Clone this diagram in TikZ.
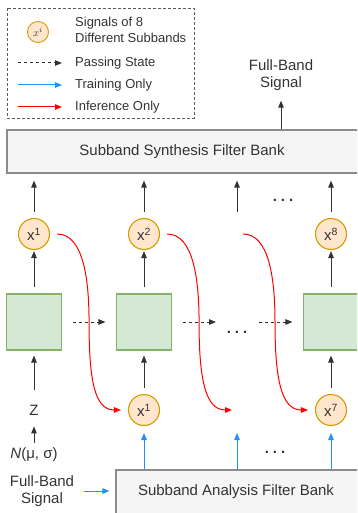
\documentclass[tikz,border=0pt]{standalone}
\usepackage{fontspec}
\setmainfont{Liberation Sans}
\usetikzlibrary{arrows.meta,positioning}
\definecolor{cTx}{HTML}{333333}
\definecolor{cSg}{HTML}{FFE6CC}
\definecolor{cSgD}{HTML}{D79B00}
\definecolor{cNt}{HTML}{D5E8D4}
\definecolor{cNtD}{HTML}{82B366}
\definecolor{cBk}{HTML}{F5F5F5}
\definecolor{cBkD}{HTML}{8C8C8C}
\definecolor{cTr}{HTML}{2090FF}
\definecolor{cIf}{HTML}{FF0000}
\tikzset{
  txt/.style={text=cTx, font=\fontsize{15}{17}\selectfont, align=center, inner sep=1pt},
  legtxt/.style={text=cTx, font=\fontsize{13}{16}\selectfont, align=left, anchor=west, inner sep=2pt},
  sig/.style={circle, draw=cSgD, fill=cSg, line width=1.1pt, minimum size=31pt, inner sep=0pt, txt},
  net/.style={rectangle, draw=cNtD, fill=cNt, line width=1.1pt, minimum width=55pt, minimum height=56pt},
  bank/.style={rectangle, draw=cBkD, fill=cBk, line width=1.2pt},
  fwd/.style={-{Triangle[length=7pt,width=5.5pt]}, line width=1pt, cTx},
  passarrow/.style={fwd, dash pattern=on 3pt off 3pt},
  trainarrow/.style={fwd, cTr},
  inferarrow/.style={fwd, cIf},
}
\newcommand{\infpath}[2]{\draw[inferarrow] #1 .. controls +(26,0) and +(0,-44) .. ++(32,88) .. controls +(0,56) and +(-27,0) .. #2;}
\newcommand{\hdots}{\textbf{.\hspace{4pt}.\hspace{4pt}.}}

\begin{document}
\begin{tikzpicture}[x=1pt,y=-1pt]
\clip (0,0) rectangle (357,513);
% legend
\draw[cTx!80, line width=0.9pt, dash pattern=on 3pt off 2pt] (7,8) rectangle (194,118);
\node[sig, minimum size=21pt, line width=0.9pt] (lgX) at (38,32) {\fontsize{11}{11}\selectfont$x^i$};
\node[legtxt] (lgS) at (73,30) {Signals of 8\\Different Subbands};
\node[legtxt] (lgP) at (73,63) {Passing State};
\node[legtxt] (lgT) at (73,85) {Training Only};
\node[legtxt] (lgI) at (73,107) {Inference Only};
\draw[passarrow] ([xshift=-55pt]lgP.west) -- ([xshift=-11pt]lgP.west);
\draw[trainarrow] ([xshift=-55pt]lgT.west) -- ([xshift=-11pt]lgT.west);
\draw[inferarrow] ([xshift=-55pt]lgI.west) -- ([xshift=-11pt]lgI.west);
% filter banks
\node[bank, minimum width=370pt, minimum height=43pt] (syn) at (192,151.5) {};
\node[txt] (synT) at (182,152) {Subband Synthesis Filter Bank};
\node[bank, minimum width=260pt, minimum height=60pt] (ana) at (246,500) {};
\node[txt] (anaT) at (236,492) {Subband Analysis Filter Bank};
\node[txt] (fbT) at (281,75) {Full-Band\\Signal};
\node[txt] (fbL) at (42,491) {Full-Band\\Signal};
% subbands and networks
\foreach \n/\xx/\s in {t1/34/1, t2/144/2, t8/331/8}
  \node[sig] (\n) at (\xx,234) {x\textsuperscript{\s}};
\foreach \n/\xx in {n1/34, n2/144, n3/331}
  \node[net] (\n) at (\xx,322) {};
\node[sig] (b1) at (144,410) {x\textsuperscript{1}};
\node[sig] (b7) at (331,410) {x\textsuperscript{7}};
\node[txt] (z) at (34,410) {Z};
\node[txt] (nrm) at (34,455) {\textit{N}(μ, σ)};
\coordinate (t3) at (237,212);
\coordinate (r3) at (243,234);
\coordinate (b3) at (237,433);
\coordinate (e2) at (232,410);
\coordinate (s2) at (216,322);
\coordinate (s3) at (259,322);
\node[txt, anchor=base] (d1) at (283,201) {\hdots};
\node[txt, anchor=base] (d2) at (237,333) {\hdots};
\node[txt, anchor=base] (d3) at (275,453) {\hdots};
% connectors
\draw[fwd, shorten >=9pt] (fbT |- syn.north) -- (fbT);
\foreach \a in {t1,t2,t8}
  \draw[fwd, shorten <=6pt, shorten >=7pt] (\a) -- (\a |- syn.south);
\draw[fwd, shorten >=7pt] (t3) -- (t3 |- syn.south);
\foreach \a/\b in {n1/t1, n2/t2, n3/t8}
  \draw[fwd, shorten <=6pt, shorten >=1pt] (\a) -- (\b);
\foreach \a/\b in {b1/n2, b7/n3}
  \draw[fwd, shorten <=6pt, shorten >=5pt] (\a) -- (\b);
\draw[fwd, shorten <=14pt, shorten >=5pt] (z) -- (n1);
\draw[fwd, shorten <=4pt, shorten >=10pt] (nrm) -- (z);
\draw[passarrow, shorten <=11pt, shorten >=10.5pt] (n1) -- (n2);
\draw[passarrow, shorten <=10.5pt] (n2) -- (s2);
\draw[passarrow, shorten >=10.5pt] (s3) -- (n3);
\foreach \a in {b1,b7}
  \draw[trainarrow, shorten >=7pt] (\a |- ana.north) -- (\a);
\draw[trainarrow] (b3 |- ana.north) -- (b3);
\draw[trainarrow, shorten <=9pt, shorten >=6pt] (fbL) -- (fbL -| ana.west);
\infpath{([xshift=7pt]t1.east)}{([xshift=-7pt]b1.west)}
\infpath{([xshift=7pt]t2.east)}{(e2)}
\infpath{(r3)}{([xshift=-7pt]b7.west)}
\end{tikzpicture}
\end{document}
